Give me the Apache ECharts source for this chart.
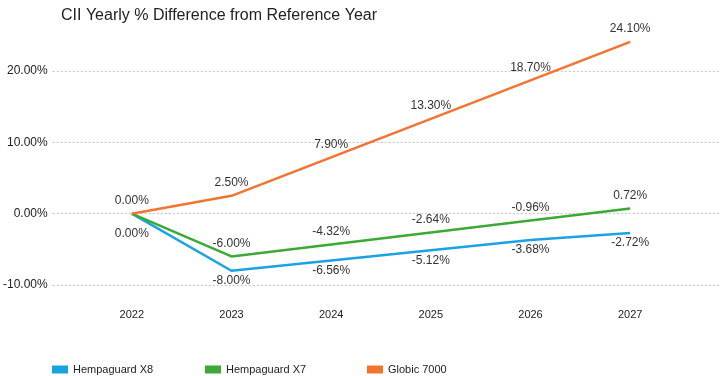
<!DOCTYPE html>
<html>
<head>
<meta charset="utf-8">
<script src="https://cdn.jsdelivr.net/npm/echarts@6/dist/echarts.min.js"></script>
<style>
  html, body { margin: 0; padding: 0; background: #fff; }
  #chart { width: 720px; height: 376px; }
</style>
</head>
<body>
<div id="chart"></div>
<script>
// data
const years = ['2022', '2023', '2024', '2025', '2026', '2027'];
const x8 = [0, -8.0, -6.56, -5.12, -3.68, -2.72];
const x7 = [0, -6.0, -4.32, -2.64, -0.96, 0.72];
const globic = [0, 2.5, 7.9, 13.3, 18.7, 24.1];
const seriesNames = ['Hempaguard X8', 'Hempaguard X7', 'Globic 7000'];
const colors = ['#1aa3e3', '#3aa935', '#f27430'];

const narrow = '"Liberation Sans Narrow", "Liberation Sans", Arial, sans-serif';
const regular = '"Liberation Sans", Arial, sans-serif';

let myChart = echarts.init(document.getElementById('chart'));

// firstLabel: override for the 2022 label (false = hidden)
function lineSeries(name, data, color, pos, firstLabel) {
  return {
    name: name,
    type: 'line',
    xAxisIndex: 0,
    yAxisIndex: 0,
    data: data.map((v, i) => (i === 0 && firstLabel ? { value: v, label: firstLabel } : v)),
    symbol: 'circle',
    symbolSize: 0.1,
    showSymbol: true,
    lineStyle: { color: color, width: 2.5 },
    itemStyle: { color: color },
    label: {
      show: true,
      position: pos,
      distance: pos === 'top' ? 7 : 4,
      color: '#333',
      fontSize: 12,
      fontFamily: regular,
      formatter: p => p.value.toFixed(2) + '%'
    }
  };
}

let option = {
  animation: false,
  title: {
    text: 'CII Yearly % Difference from Reference Year',
    left: 56,
    top: 3,
    textStyle: { color: '#222', fontSize: 16, fontWeight: 'normal', fontFamily: regular }
  },
  legend: seriesNames.map((n, i) => ({
    data: [n],
    left: [47, 200, 362][i],
    top: 359,
    icon: 'rect',
    itemWidth: 16,
    itemHeight: 8,
    textStyle: { color: '#222', fontSize: 11, fontFamily: narrow }
  })),
  grid: [
    { left: 82, right: 40, top: 14, bottom: 91 },
    { left: 50, right: 0, top: 14, bottom: 91 }
  ],
  xAxis: [
    {
      type: 'category',
      gridIndex: 0,
      data: years,
      boundaryGap: true,
      axisLine: { show: false },
      axisTick: { show: false },
      axisLabel: { color: '#222', fontSize: 11, fontFamily: narrow, margin: 24 }
    },
    { type: 'category', gridIndex: 1, data: years, show: false }
  ],
  yAxis: [
    {
      type: 'value',
      gridIndex: 0,
      min: -10,
      max: 28,
      interval: 10,
      show: false,
      splitLine: { show: false }
    },
    {
      type: 'value',
      gridIndex: 1,
      min: -10,
      max: 28,
      interval: 10,
      axisLine: { show: false },
      axisTick: { show: false },
      axisLabel: {
        margin: 5,
        color: '#222',
        fontSize: 12,
        fontFamily: regular,
        showMaxLabel: false,
        formatter: v => v.toFixed(2) + '%'
      },
      splitLine: { showMaxLine: false, lineStyle: { color: '#c4c4c4', type: [2, 2], width: 1 } }
    }
  ],
  series: [
    lineSeries(seriesNames[0], x8, colors[0], 'bottom', { distance: 14 }),
    lineSeries(seriesNames[1], x7, colors[1], 'top', { show: false }),
    lineSeries(seriesNames[2], globic, colors[2], 'top', null)
  ]
};
myChart.setOption(option);
</script>
</body>
</html>
